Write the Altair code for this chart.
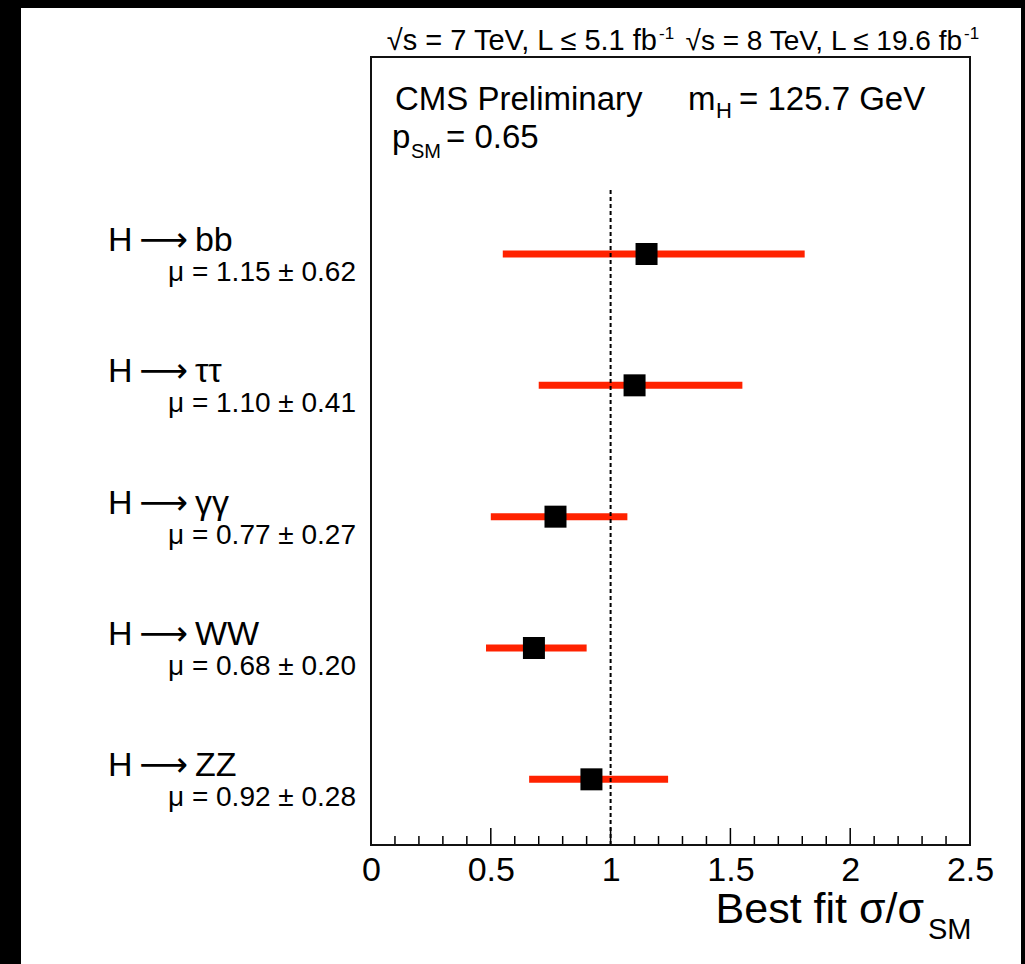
import altair as alt
import pandas as pd

FONT = "Liberation Sans, Arial, Helvetica, DejaVu Sans, sans-serif"

# ---- data ----
channels = ["H\u2009⟶\u2009bb", "H\u2009⟶\u2009ττ", "H\u2009⟶\u2009γγ",
            "H\u2009⟶\u2009WW", "H\u2009⟶\u2009ZZ"]
mu_labels = ["μ = 1.15 ± 0.62", "μ = 1.10 ± 0.41", "μ = 0.77 ± 0.27",
             "μ = 0.68 ± 0.20", "μ = 0.92 ± 0.28"]
best_fit = [1.15, 1.10, 0.77, 0.68, 0.92]
ci_low = [0.55, 0.70, 0.50, 0.48, 0.66]
ci_high = [1.81, 1.55, 1.07, 0.90, 1.24]
row = [4, 3, 2, 1, 0]
major_ticks = [0.0, 0.5, 1.0, 1.5, 2.0, 2.5]
minor_ticks = [0.1, 0.2, 0.3, 0.4, 0.6, 0.7, 0.8, 0.9, 1.1, 1.2, 1.3, 1.4,
               1.6, 1.7, 1.8, 1.9, 2.1, 2.2, 2.3, 2.4]
sm_value = [1.0]
sm_row_lo = [-0.5]
sm_row_hi = [4.5]

df = pd.DataFrame({"channel": channels, "mu_label": mu_labels, "mu": best_fit,
                   "lo": ci_low, "hi": ci_high, "row": row})
df_major = pd.DataFrame({"t": major_ticks})
df_minor = pd.DataFrame({"t": minor_ticks})
df_sm = pd.DataFrame({"x": sm_value, "y": sm_row_lo, "y2": sm_row_hi})
dummy = pd.DataFrame({"a": [0]})

W, H = 599, 788
xscale = alt.Scale(domain=[0, 2.5], nice=False, zero=False)
yscale = alt.Scale(domain=[-0.5, 5.5], nice=False, zero=False)

x_axis = alt.Axis(values=major_ticks, format="~g", title=None, ticks=False,
                  domain=False, grid=False, labelFontSize=34, labelFont=FONT,
                  labelColor="black", labelPadding=8, labelFlush=False,
                  labelOverlap=False, zindex=2)

background = alt.Chart(dummy).mark_rect(color="white").encode(
    x=alt.value(-350), x2=alt.value(650), y=alt.value(-49), y2=alt.value(907))

frame = alt.Chart(dummy).mark_rect(filled=False, stroke="#111111",
                                   strokeWidth=2).encode(
    x=alt.value(0), x2=alt.value(W), y=alt.value(0), y2=alt.value(H))

bars = alt.Chart(df).mark_rule(color="#ff2200", strokeWidth=7).encode(
    x=alt.X("lo:Q", scale=xscale, axis=x_axis, title=None),
    x2="hi:Q",
    y=alt.Y("row:Q", scale=yscale, axis=None))

sm_line = alt.Chart(df_sm).mark_rule(color="black", strokeWidth=2,
                                     strokeDash=[4, 3]).encode(
    x=alt.X("x:Q", scale=xscale, axis=x_axis, title=None),
    y=alt.Y("y:Q", scale=yscale, axis=None),
    y2="y2:Q")

points = alt.Chart(df).mark_square(size=484, color="black", opacity=1,
                                   filled=True).encode(
    x=alt.X("mu:Q", scale=xscale, axis=x_axis, title=None),
    y=alt.Y("row:Q", scale=yscale, axis=None))

major = alt.Chart(df_major).mark_rule(color="black", strokeWidth=1.5).encode(
    x=alt.X("t:Q", scale=xscale, axis=x_axis, title=None),
    y=alt.value(H), y2=alt.value(H - 17))

minor = alt.Chart(df_minor).mark_rule(color="black", strokeWidth=1.5).encode(
    x=alt.X("t:Q", scale=xscale, axis=x_axis, title=None),
    y=alt.value(H), y2=alt.value(H - 9))

chan_text = alt.Chart(df).mark_text(align="left", baseline="alphabetic",
                                    fontSize=34, font=FONT, color="black",
                                    dy=-3).encode(
    x=alt.value(-263),
    y=alt.Y("row:Q", scale=yscale, axis=None),
    text="channel:N")

mu_text = alt.Chart(df).mark_text(align="left", baseline="alphabetic",
                                  fontSize=28, font=FONT, color="black",
                                  dy=27).encode(
    x=alt.value(-203),
    y=alt.Y("row:Q", scale=yscale, axis=None),
    text="mu_label:N")


def label(txt, x, y, size, align="left"):
    return alt.Chart(dummy).mark_text(text=txt, fontSize=size, align=align,
                                      baseline="alphabetic", font=FONT,
                                      color="black").encode(
        x=alt.value(x), y=alt.value(y))


annotations = [
    label("√s = 7 TeV, L ≤ 5.1 fb", 286, -7, 29, "right"),
    label("-1", 288, -18, 17),
    label("√s = 8 TeV, L ≤ 19.6 fb", 591, -7, 28, "right"),
    label("-1", 593, -18, 17),
    label("CMS Preliminary", 24, 53, 33),
    label("m", 317, 53, 33),
    label("H", 345, 61, 22),
    label("= 125.7 GeV", 368, 53, 33),
    label("p", 21, 91, 33),
    label("SM", 40, 101, 20),
    label("= 0.65", 75, 91, 33),
    label("Best fit σ/σ", 553, 866, 43, "right"),
    label("SM", 557, 882, 29),
]

chart = alt.layer(background, bars, sm_line, points, major, minor, frame,
                  chan_text, mu_text, *annotations).properties(
    width=W, height=H,
    autosize=alt.AutoSizeParams(type="none"),
    padding={"left": 371, "top": 57, "right": 55, "bottom": 119},
    background="black",
).configure_view(stroke=None, fill=None)

chart.save("out.html", embed_options={"renderer": "svg", "actions": False})
